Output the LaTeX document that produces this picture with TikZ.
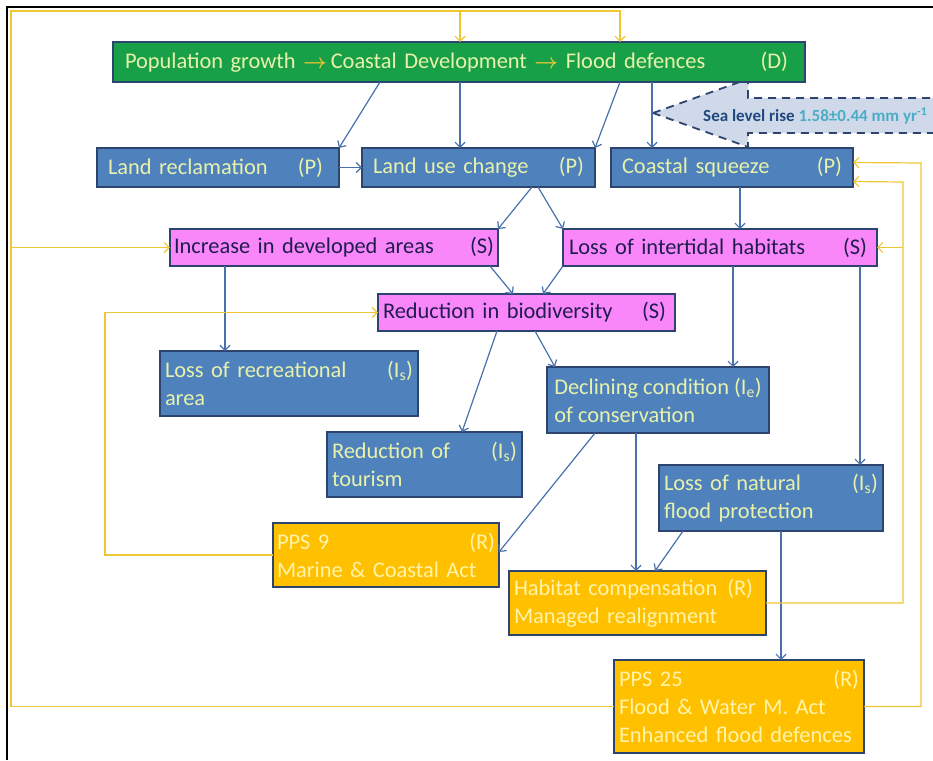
\documentclass[tikz,border=0pt]{standalone}
\usepackage{fontspec}
\setmainfont{Carlito}
\usetikzlibrary{calc}
\usetikzlibrary{positioning}
\usetikzlibrary{arrows.meta}
\definecolor{boxline}{RGB}{45,68,110}
\definecolor{drvgreen}{RGB}{24,160,72}
\definecolor{prsblue}{RGB}{79,129,189}
\definecolor{stpink}{RGB}{250,135,250}
\definecolor{rspgold}{RGB}{255,192,0}
\definecolor{paletext}{RGB}{232,242,170}
\definecolor{rsptext}{RGB}{255,244,170}
\definecolor{stnavy}{RGB}{32,28,80}
\definecolor{linkblue}{RGB}{72,112,172}
\definecolor{fbyellow}{RGB}{238,198,52}
\definecolor{slrfill}{RGB}{208,217,234}
\definecolor{slrdark}{RGB}{31,73,125}
\definecolor{slrlight}{RGB}{75,172,198}
\newcommand{\boxfont}{\fontsize{22.4}{28}\selectfont}
\newcommand{\dparrow}{\textcolor{fbyellow}{$\boldsymbol{\rightarrow}$}}
\tikzstyle{dpsirbox} = [draw=boxline, line width=1.3pt, anchor=north west, inner xsep=6pt, inner ysep=0pt, outer sep=0pt, align=left, font=\boxfont]
\tikzstyle{drivercol} = [fill=drvgreen, text=paletext]
\tikzstyle{pressurecol} = [fill=prsblue, text=paletext, inner xsep=11pt]
\tikzstyle{statecol} = [fill=stpink, text=stnavy]
\tikzstyle{impactcol} = [fill=prsblue, text=paletext]
\tikzstyle{responsecol} = [fill=rspgold, text=rsptext]
\tikzstyle{causal} = [draw=linkblue, line width=1.2pt, -{Straight Barb[length=5pt,width=10pt]}]
\tikzstyle{feedback} = [draw=fbyellow, line width=1.2pt, -{Straight Barb[length=5pt,width=10pt]}]
\tikzstyle{slrarrow} = [draw=boxline, fill=slrfill, line width=1.8pt, dash pattern=on 8pt off 6pt]
\usepackage{amsmath}
\usepackage{amssymb}

\begin{document}
\begin{tikzpicture}[x=1pt, y=-1pt]
    \useasboundingbox (0,0) rectangle (933,760);
    \draw[line width=2.5pt] (7,760) -- (7,7) -- (933,7);

    % sea level rise
    \draw[slrarrow] (653,113) -- (748,79) -- (748,98) -- (960,98) -- (960,133) -- (748,133) -- (748,147) -- cycle;
    \node[anchor=west, inner sep=0pt, font=\fontsize{17}{19}\selectfont\bfseries] (slr_label) at (703,116)
        {\textcolor{slrdark}{Sea level rise} \textcolor{slrlight}{1.58±0.44 mm yr\textsuperscript{-1}}};

    % drivers
    \node[dpsirbox, drivercol, inner xsep=12pt, text width=668pt, minimum height=40pt] (d_main) at (113,42)
        {Population growth \dparrow\,Coastal Development \dparrow\ Flood defences\hfill(D)\hspace*{5pt}};

    % pressures
    \node[dpsirbox, pressurecol, text width=220pt, minimum height=39pt] (p_reclaim) at (97,148) {Land reclamation\hfill(P)\hspace*{5pt}};
    \node[dpsirbox, pressurecol, text width=211pt, minimum height=39pt] (p_landuse) at ($(p_reclaim.north east)+(23,0)$) {Land use change\hfill(P)};
    \node[dpsirbox, pressurecol, text width=220pt, minimum height=39pt] (p_squeeze) at ($(p_landuse.north east)+(16,0)$) {Coastal squeeze\hfill(P)};

    % states
    \node[dpsirbox, statecol, inner xsep=4pt, text width=320pt, minimum height=37pt] (s_developed) at (170,229) {Increase in developed areas\hfill(S)};
    \node[dpsirbox, statecol, text width=302pt, minimum height=37pt] (s_intertidal) at (563,229) {Loss of intertidal habitats\hfill(S)\hspace*{4pt}};
    \node[dpsirbox, statecol, inner xsep=5pt, text width=287pt, minimum height=37pt] (s_biodiv) at (378,294) {Reduction in biodiversity\hfill(S)\hspace*{4pt}};

    % impacts
    \node[dpsirbox, impactcol, inner xsep=5pt, text width=248pt, minimum height=65pt] (i_recreation) at (160,351) {Loss of recreational\hfill(I\textsubscript{s})\hspace*{6pt}\\area};
    \node[dpsirbox, impactcol, inner xsep=5pt, text width=185pt, minimum height=65pt] (i_tourism) at (327,432) {Reduction of\hfill(I\textsubscript{s})\hspace*{6pt}\\tourism};
    \node[dpsirbox, impactcol, inner xsep=4pt, minimum width=222pt, minimum height=66pt] (i_conserv) at (547,367) {Declining condition (I\textsubscript{e})\\of conservation};
    \node[dpsirbox, impactcol, inner xsep=5pt, text width=214pt, minimum height=66pt] (i_floodprot) at (659,465) {Loss of natural\hfill(I\textsubscript{s})\hspace*{12pt}\\flood protection};

    % responses
    \node[dpsirbox, responsecol, inner xsep=4pt, text width=218pt, minimum height=64pt] (r_pps9) at (273,523) {PPS 9\hfill(R)\hspace*{5pt}\\Marine \& Coastal Act};
    \node[dpsirbox, responsecol, inner xsep=5pt, text width=247pt, minimum height=64pt] (r_habitat) at (509,571) {Habitat compensation\hspace{10pt}(R)\\Managed realignment};
    \node[dpsirbox, responsecol, inner xsep=5pt, text width=240pt, minimum height=93pt] (r_pps25) at (614,660) {PPS 25\hfill(R)\hspace*{12pt}\\Flood \& Water M. Act\\Enhanced flood defences};

    % causal links
    \draw[causal] (380,0 |- d_main.south) -- (p_reclaim.north east);
    \draw[causal] (460,0 |- d_main.south) -- (460,0 |- p_landuse.north);
    \draw[causal] (620,0 |- d_main.south) -- (p_landuse.north east);
    \draw[causal] (652,0 |- d_main.south) -- (652,0 |- p_squeeze.north);
    \draw[causal] (p_reclaim.east) -- (p_landuse.west);
    \draw[causal] (532,0 |- p_landuse.south) -- (s_developed.north east);
    \draw[causal] (538,0 |- p_landuse.south) -- (s_intertidal.north west);
    \draw[causal] (740,0 |- p_squeeze.south) -- (740,0 |- s_intertidal.north);
    \draw[causal] (225,0 |- s_developed.south) -- (225,0 |- i_recreation.north);
    \draw[causal] (490,0 |- s_developed.south) -- (513,0 |- s_biodiv.north);
    \draw[causal] (s_intertidal.south west) -- (543,0 |- s_biodiv.north);
    \draw[causal] (497,0 |- s_biodiv.south) -- (462,0 |- i_tourism.north);
    \draw[causal] (535,0 |- s_biodiv.south) -- (555,0 |- i_conserv.north);
    \draw[causal] (733,0 |- s_intertidal.south) -- (733,0 |- i_conserv.north);
    \draw[causal] (860,0 |- s_intertidal.south) -- (860,0 |- i_floodprot.north);
    \draw[causal] (595,0 |- i_conserv.south) -- ($(r_pps9.north east)+(0,29)$);
    \draw[causal] (636,0 |- i_conserv.south) -- (636,0 |- r_habitat.north);
    \draw[causal] (683,0 |- i_floodprot.south) -- (655,0 |- r_habitat.north);
    \draw[causal] (781,0 |- i_floodprot.south) -- (781,0 |- r_pps25.north);

    % feedback from responses
    \coordinate (fb_corner) at (11,11);
    \draw[feedback] (r_pps25.west) -| (fb_corner) -| (620,0 |- d_main.north);
    \draw[feedback] (460,0 |- fb_corner) -- (460,0 |- d_main.north);
    \draw[feedback] (fb_corner |- s_developed.west) -- (s_developed.west);
    \draw[feedback] (r_pps9.west) -- (105,0 |- r_pps9.west) -- (105,0 |- s_biodiv.west) -- (s_biodiv.west);
    \draw[feedback] (r_habitat.east) -- (903,0 |- r_habitat.east) -- (903,182) -- ($(p_squeeze.east)+(0,14)$);
    \draw[feedback] (903,0 |- s_intertidal.east) -- (s_intertidal.east);
    \draw[feedback] (r_pps25.east) -- (921,0 |- r_pps25.east) -- (921,163) -- ($(p_squeeze.east)+(0,-5)$);
\end{tikzpicture}
\end{document}
